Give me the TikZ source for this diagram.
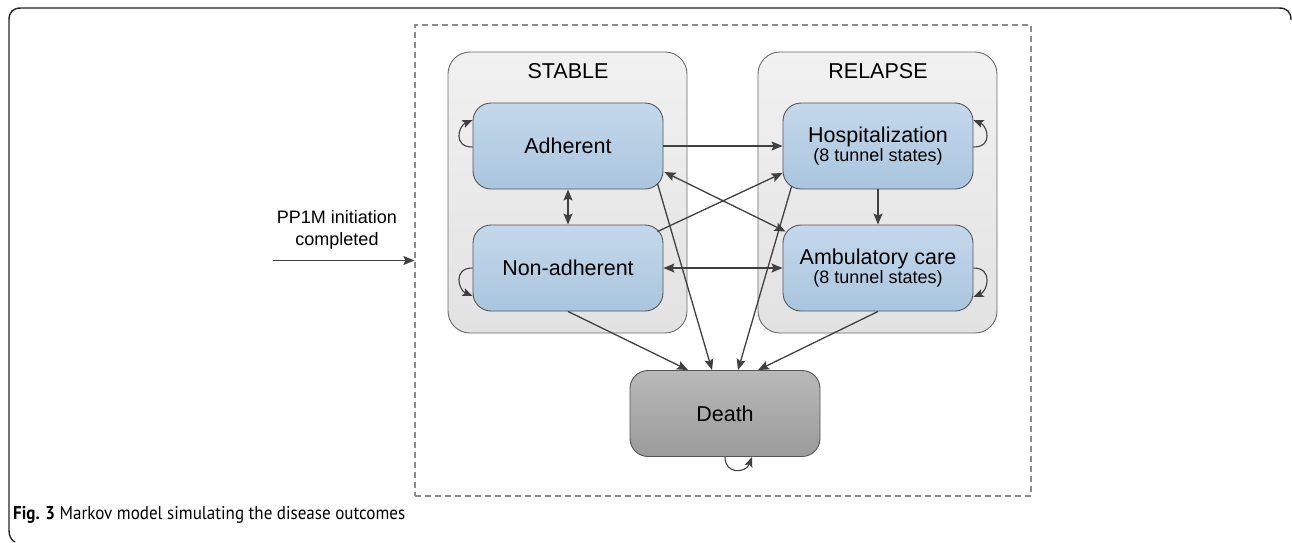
\documentclass[tikz,border=0pt]{standalone}
\usepackage{fontspec}
\setmainfont{Liberation Sans}
\newfontfamily\capfont[FakeStretch=0.92]{PT Sans}
\usetikzlibrary{arrows.meta,calc}
\definecolor{arrc}{HTML}{404040}
\definecolor{nodeborder}{HTML}{555555}
\definecolor{grpborder}{HTML}{6A6A6A}
\definecolor{dashc}{HTML}{8C8C8C}
\definecolor{bluetop}{HTML}{C4D8EA}
\definecolor{bluebot}{HTML}{A9C6DE}
\definecolor{graytop}{HTML}{B9B9B9}
\definecolor{graybot}{HTML}{9B9B9B}
\definecolor{grptop}{HTML}{F1F1F1}
\definecolor{grpbot}{HTML}{E2E2E2}
\tikzset{
  bigtxt/.style={font=\fontsize{21.5}{24}\selectfont},
  smalltxt/.style={font=\fontsize{18}{22}\selectfont},
  statebox/.style={draw=nodeborder, line width=0.9pt, rounded corners=18pt,
    top color=bluetop, bottom color=bluebot, minimum width=190pt, minimum height=86pt,
    align=center, inner sep=0pt},
  deathbox/.style={statebox, top color=graytop, bottom color=graybot},
  grpbox/.style={draw=grpborder, line width=0.9pt, rounded corners=22pt,
    top color=grptop, bottom color=grpbot, minimum width=239pt, minimum height=281pt, inner sep=0pt},
  arr/.style={draw=arrc, line width=1.3pt, -{Stealth[length=11pt,width=9pt,inset=2pt]}},
  darr/.style={draw=arrc, line width=1.3pt, {Stealth[length=11pt,width=9pt,inset=2pt]}-{Stealth[length=11pt,width=9pt,inset=2pt]}},
  loopa/.style={draw=arrc, line width=1.1pt, -{Stealth[length=10pt,width=8pt,inset=2pt]}},
}
\begin{document}
\begin{tikzpicture}[x=1pt,y=-1pt]
\useasboundingbox (0,0) rectangle (1292,542);
% outer frame
\draw[line width=1.4pt, color=black!85]
  (1291,20) .. controls (1291,12) and (1287,8) .. (1279,8) -- (21,8)
  .. controls (13,8) and (9,12) .. (9,20) -- (9,530)
  .. controls (9,536) and (11,540) .. (15,542);
% dashed frame
\node[draw=dashc, line width=1.2pt, dash pattern=on 6pt off 4pt, minimum width=616pt, minimum height=471pt, inner sep=0pt] (frame) at (723,260.5) {};
% groups
\node[grpbox] (gS) at (567.5,192.5) {};
\node[grpbox] (gR) at (877.5,192.5) {};
\node[bigtxt] (tS) at (568,71) {STABLE};
\node[bigtxt] (tR) at (878,71) {RELAPSE};
% states
\node[statebox, bigtxt] (A) at (568,146) {Adherent};
\node[statebox, bigtxt] (N) at (568,268) {Non-adherent};
\node[statebox] (H) at (878,146) {{\fontsize{21.5}{24}\selectfont Hospitalization}\\[1pt]{\fontsize{18}{20}\selectfont (8 tunnel states)}};
\node[statebox] (M) at (878,268) {{\fontsize{21.5}{24}\selectfont Ambulatory care}\\[1pt]{\fontsize{18}{20}\selectfont (8 tunnel states)}};
\node[deathbox, bigtxt] (D) at (725,413.5) {Death};
% entry
\node[smalltxt, align=center] (entry) at (337,230) {PP1M initiation\\completed};
\coordinate (start) at (273,260.5);
\draw[arr] (start) -- (frame.west);
% transitions
\draw[arr] (A.east) -- (H.west);
\draw[darr] (N.east) -- (M.west);
\draw[darr] (A.south) -- (N.north);
\draw[arr] (H.south) -- (M.north);
\draw[darr] ($(A.east)+(1,26)$) -- ($(M.north west)+(3,7)$);
\draw[arr] ($(N.north east)+(-6,7)$) -- ($(H.west)+(0,27)$);
\draw[arr] ($(A.south east)+(-6,-6)$) -- ($(D.north)+(-13,0)$);
\draw[arr] ($(H.south west)+(9,-3)$) -- ($(D.north)+(13,0)$);
\draw[arr] (N.south) -- ($(D.north)+(-37,0)$);
\draw[arr] (M.south) -- ($(D.north)+(33,0)$);
% self loops
\draw[loopa] ($(A.west)+(0,1)$) .. controls +(-20,0) and +(-14,6) .. ($(A.west)+(0,-26)$);
\draw[loopa] (N.west) .. controls +(-20,0) and +(-14,-6) .. ($(N.west)+(0,28)$);
\draw[loopa] ($(H.east)+(0,1)$) .. controls +(20,0) and +(14,6) .. ($(H.east)+(0,-26)$);
\draw[loopa] (M.east) .. controls +(20,0) and +(14,-6) .. ($(M.east)+(0,29)$);
\draw[loopa] (D.south) .. controls +(0,18) and +(-6,16) .. ($(D.south)+(27,0)$);
% caption
\node[anchor=west, font=\capfont\fontsize{18.5}{20}\selectfont, inner sep=0pt] (cap) at (13,515) {\textbf{Fig. 3} Markov model simulating the disease outcomes};
\end{tikzpicture}
\end{document}
